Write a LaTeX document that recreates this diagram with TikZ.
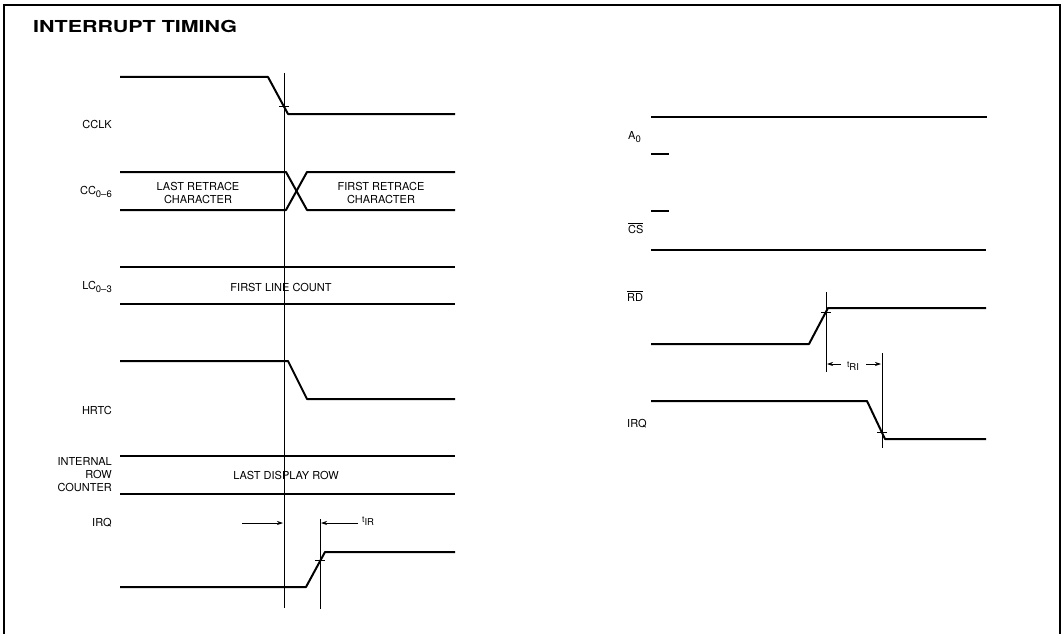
\documentclass[tikz,border=0pt]{standalone}
\usepackage{fontspec}
\setmainfont{TeX Gyre Heros}
\usetikzlibrary{arrows.meta}
\newcommand\sbs[1]{\raisebox{-2.8pt}{\fontsize{9.5}{9.5}\selectfont #1}}
\newcommand\smt{{\fontsize{8.5}{8.5}\selectfont t}}
\begin{document}
\begin{tikzpicture}[x=1pt,y=-1pt,
  sig/.style={line width=2pt, line join=round},
  guide/.style={line width=0.7pt},
  tickmark/.style={line width=0.8pt},
  dim/.style={line width=0.7pt, -{Stealth[length=6pt,width=4pt]}},
  lbl/.style={font=\fontsize{11}{13}\selectfont, inner sep=0pt},
  sname/.style={lbl, anchor=east},
  rname/.style={lbl, anchor=west},
  inside/.style={lbl, align=center}]
\useasboundingbox (0,0) rectangle (1063,634);
% frame
\draw[line width=1.8pt] (4,634) -- (4,5) -- (1060,5) -- (1060,634);
\node[anchor=base west, inner sep=0pt, font=\bfseries\fontsize{16.5}{18}\selectfont] (title) at (33,33) {\scalebox{1.3}[1]{INTERRUPT TIMING}};

% left guide lines
\draw[guide] (284,73) -- (284,608);
\draw[guide] (320,519) -- (320,609);

% CCLK
\node[sname] (cclk) at (112,124) {CCLK};
\draw[sig] (120,77) -- (268,77) -- (288,114) -- (455,114);
\draw[tickmark] (279,106) -- (289,106);

% CC0-6
\node[sname] (cc) at (112,192) {CC\sbs{0–6}};
\draw[sig] (120,172) -- (286,172) -- (307,210) -- (455,210);
\draw[sig] (120,210) -- (286,210) -- (307,172) -- (455,172);
\node[inside] (lastchar) at (198,193) {LAST RETRACE\\CHARACTER};
\node[inside] (firstchar) at (381,193) {FIRST RETRACE\\CHARACTER};

% LC0-3
\node[sname] (lc) at (112,287) {LC\sbs{0–3}};
\draw[sig] (120,267) -- (455,267);
\draw[sig] (120,304) -- (455,304);
\node[inside] (flc) at (281,287) {FIRST LINE COUNT};

% HRTC
\node[sname] (hrtc) at (112,410) {HRTC};
\draw[sig] (120,361) -- (288,361) -- (307,399) -- (455,399);

% Internal row counter
\node[lbl, anchor=east, align=right] (irc) at (112,475) {INTERNAL\\ROW\\COUNTER};
\draw[sig] (120,456) -- (455,456);
\draw[sig] (120,494) -- (455,494);
\node[inside] (ldr) at (286,475) {LAST DISPLAY ROW};

% IRQ left
\node[sname] (irql) at (112,523) {IRQ};
\draw[sig] (120,587) -- (306,587) -- (325,552) -- (455,552);
\draw[tickmark] (315,560) -- (325,560);
\coordinate (a1s) at (242,523);
\coordinate (a1e) at (283,523);
\coordinate (a2s) at (358,523);
\coordinate (a2e) at (321,523);
\draw[dim] (a1s) -- (a1e);
\draw[dim] (a2s) -- (a2e);
\node[lbl, anchor=west] (tir) at (362,521) {\smt\sbs{IR}};

% right side
% A0
\node[rname] (a0) at (628,137) {A\sbs{0}};
\draw[sig] (651,117) -- (987,117);
\draw[sig] (651,154) -- (669,154);
% CS
\draw[sig] (651,211) -- (669,211);
\node[rname] (cs) at (628,228) {$\overline{\mbox{CS}}$};
\draw[sig] (651,250) -- (986,250);

% RD
\node[rname] (rd) at (627,296) {$\overline{\mbox{RD}}$};
\draw[guide] (826,292) -- (826,372);
\draw[sig] (651,344) -- (809,344) -- (828,308) -- (986,308);
\draw[tickmark] (821,312) -- (831,312);

% tRI
\coordinate (b1s) at (841,364);
\coordinate (b1e) at (827,364);
\coordinate (b2s) at (866,364);
\coordinate (b2e) at (881,364);
\draw[dim] (b1s) -- (b1e);
\draw[dim] (b2s) -- (b2e);
\node[lbl] (tri) at (853,366) {\smt\sbs{RI}};

% IRQ right
\node[rname] (irqr) at (627,424) {IRQ};
\draw[guide] (882,353) -- (882,448);
\draw[sig] (651,401) -- (867,401) -- (885,439) -- (986,439);
\draw[tickmark] (877,432) -- (887,432);
\end{tikzpicture}
\end{document}
